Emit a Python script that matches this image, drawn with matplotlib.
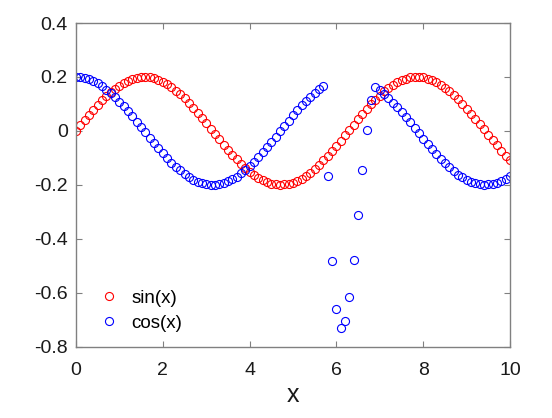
import matplotlib
matplotlib.use("Agg")
import matplotlib.pyplot as plt
import numpy as np

x_vals = [round(i * 0.1, 1) for i in range(101)]

sin_vals = [
    0.000, 0.020, 0.040, 0.059, 0.078, 0.096, 0.113, 0.129, 0.143, 0.157,
    0.168, 0.178, 0.186, 0.193, 0.197, 0.200, 0.200, 0.198, 0.195, 0.189,
    0.182, 0.173, 0.162, 0.149, 0.135, 0.120, 0.103, 0.085, 0.067, 0.048,
    0.028, 0.008, -0.012, -0.032, -0.051, -0.070, -0.089, -0.106, -0.122, -0.138,
    -0.151, -0.164, -0.174, -0.183, -0.190, -0.196, -0.199, -0.200, -0.199, -0.197,
    -0.192, -0.185, -0.177, -0.166, -0.155, -0.141, -0.126, -0.110, -0.093, -0.075,
    -0.056, -0.036, -0.017, 0.003, 0.023, 0.043, 0.062, 0.081, 0.099, 0.116,
    0.131, 0.146, 0.159, 0.170, 0.180, 0.188, 0.194, 0.198, 0.200, 0.200,
    0.198, 0.194, 0.188, 0.180, 0.171, 0.160, 0.147, 0.133, 0.117, 0.100,
    0.082, 0.064, 0.045, 0.025, 0.005, -0.015, -0.035, -0.054, -0.073, -0.092,
    -0.109,
]

cos_vals = [
    0.200, 0.199, 0.196, 0.191, 0.184, 0.176, 0.165, 0.153, 0.139, 0.124,
    0.108, 0.091, 0.072, 0.054, 0.034, 0.014, -0.006, -0.026, -0.045, -0.065,
    -0.083, -0.101, -0.118, -0.133, -0.147, -0.160, -0.171, -0.181, -0.188, -0.194,
    -0.198, -0.200, -0.200, -0.198, -0.193, -0.187, -0.179, -0.170, -0.158, -0.145,
    -0.131, -0.115, -0.098, -0.080, -0.061, -0.042, -0.022, -0.002, 0.018, 0.037,
    0.057, 0.076, 0.094, 0.111, 0.127, 0.142, 0.155, 0.167,
    -0.168, -0.483, -0.662, -0.730, -0.706, -0.616, -0.478, -0.314, -0.147, 0.003, 0.114,
    0.163,
    0.151, 0.137, 0.122, 0.105, 0.088, 0.069, 0.050, 0.031, 0.011, -0.009,
    -0.029, -0.049, -0.068, -0.086, -0.104, -0.120, -0.136, -0.150, -0.162, -0.173,
    -0.182, -0.190, -0.195, -0.198, -0.200, -0.199, -0.197, -0.192, -0.186, -0.178,
    -0.168,
]

x_ticks = [0, 2, 4, 6, 8, 10]
x_ticklabels = ["0", "2", "4", "6", "8", "10"]
y_ticks = [-0.8, -0.6, -0.4, -0.2, 0, 0.2, 0.4]
y_ticklabels = ["-0.8", "-0.6", "-0.4", "-0.2", "0", "0.2", "0.4"]
series_labels = ["sin(x)", "cos(x)"]
x_label = "x"

plt.rcParams["font.family"] = ["Liberation Sans", "DejaVu Sans"]

fig = plt.figure(figsize=(5.52, 4.18), dpi=100)
ax = fig.add_axes([76 / 552, 1 - 346.5 / 418, (510 - 76) / 552, (346.5 - 23) / 418])

ax.plot(x_vals, sin_vals, linestyle="none", marker="o", markersize=5.8,
        markerfacecolor="none", markeredgecolor="#ff0000", markeredgewidth=0.8,
        label=series_labels[0])
ax.plot(x_vals, cos_vals, linestyle="none", marker="o", markersize=5.8,
        markerfacecolor="none", markeredgecolor="#0000ff", markeredgewidth=0.8,
        label=series_labels[1])

ax.set_xlim(0, 10)
ax.set_ylim(-0.8, 0.4)
ax.set_xticks(x_ticks)
ax.set_xticklabels(x_ticklabels)
ax.set_yticks(y_ticks)
ax.set_yticklabels(y_ticklabels)

spine_color = "#808080"
for s in ax.spines.values():
    s.set_color(spine_color)
    s.set_linewidth(1.0)
ax.tick_params(direction="in", top=True, right=True, length=4, width=0.8,
               color=spine_color, labelsize=14, labelcolor="#1a1a1a")
ax.tick_params(axis="x", pad=11)
ax.tick_params(axis="y", pad=6)

ax.set_xlabel(x_label, fontsize=18, color="#1a1a1a", labelpad=3)

leg = ax.legend(loc="lower left", bbox_to_anchor=(0.02, 0.0), frameon=False,
                fontsize=13.5, handletextpad=0.72, labelspacing=0.42,
                handlelength=1.0, borderaxespad=0.39, borderpad=0.4)

fig.savefig("out.png", dpi=100)
